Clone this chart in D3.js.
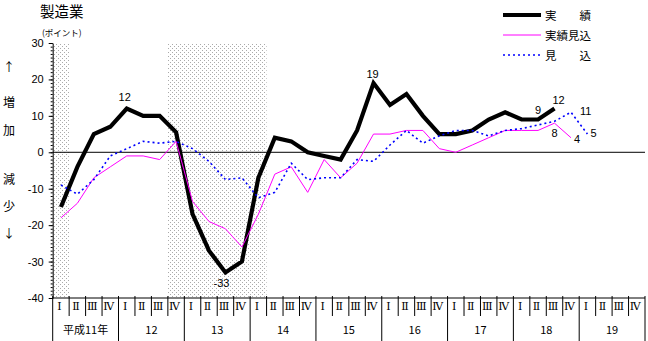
<!DOCTYPE html>
<html>
<head>
<meta charset="utf-8">
<script src="https://cdn.jsdelivr.net/npm/d3@7/dist/d3.min.js"></script>
<style>
  body { margin: 0; background: #fff; }
  svg { display: block; }
</style>
</head>
<body>
<svg id="chart" width="648" height="341"></svg>
<script>
// 製造業 — quarterly index (ポイント), 平成11年Ⅰ to 平成19年Ⅳ
const years = ["平成11年", "12", "13", "14", "15", "16", "17", "18", "19"];
const quarters = ["Ⅰ", "Ⅱ", "Ⅲ", "Ⅳ"];

// 実績 (actual), 平成11年Ⅰ … 平成18年Ⅲ
const actual = [-15, -4, 5, 7, 12, 10, 10, 5.5, -17, -27, -33, -30, -7, 4, 3, 0,
                -1, -2, 6, 19, 13, 16, 10, 5, 5, 6, 9, 11, 9, 9, 12];
// 実績見込 (estimated actual), 平成11年Ⅰ … 平成18年Ⅳ
const estimate = [-18, -14, -7, -4, -1, -1, -2, 3, -13.5, -19, -21, -26, -17, -6, -4, -11,
                  -2, -7, -3, 5, 5, 6, 6, 1, 0, 2, 4, 6, 6, 6, 8, 4];
// 見込 (outlook), 平成11年Ⅰ … 平成19年Ⅰ
const outlook = [-9, -11.5, -7.5, -1, 1, 3, 2.5, 3, 1, -2.5, -7.5, -7, -12.5, -11, -3, -7.5,
                 -7, -7, -2, -2.5, 2, 6, 2.5, 4.5, 6, 6, 4.5, 6, 6.5, 7.5, 8.5, 11, 5];

const yTicks = [30, 20, 10, 0, -10, -20, -30, -40];
// shaded quarters (first and last quarter index of each band)
const shadedPeriods = [[0, 0], [7, 12]];
// points whose value is written next to them: [series, quarter index]
const labelled = [["actual", 4], ["actual", 10], ["actual", 19], ["actual", 29], ["actual", 30],
                  ["estimate", 30], ["estimate", 31], ["outlook", 31], ["outlook", 32]];

const series = { actual, estimate, outlook };

const svg = d3.select("#chart");
const numFont = "'Liberation Sans', Arial, sans-serif";
const jpFont = "'Noto Sans CJK JP', sans-serif";

const nQ = years.length * quarters.length;
const x = d3.scaleBand().domain(d3.range(nQ)).range([52.7, 645]).padding(0);
const bw = x.bandwidth();
const cx = i => x(i) + bw / 2;
const y = d3.scaleLinear().domain([-40, 30]).range([298, 43]);

// dotted fill for the shaded bands
const defs = svg.append("defs");
const pat = defs.append("pattern").attr("id", "dots")
  .attr("patternUnits", "userSpaceOnUse").attr("width", 4).attr("height", 4);
pat.append("rect").attr("x", 0).attr("y", 0).attr("width", 1).attr("height", 1).attr("fill", "#aaaaaa");
pat.append("rect").attr("x", 2).attr("y", 2).attr("width", 1).attr("height", 1).attr("fill", "#aaaaaa");

svg.append("g").selectAll("rect").data(shadedPeriods).join("rect")
  .attr("x", d => x(d[0]))
  .attr("y", y(30))
  .attr("width", d => x(d[1]) + bw - x(d[0]))
  .attr("height", y(-40) - y(30))
  .attr("fill", "url(#dots)");

// title and unit
svg.append("text").attr("x", 40).attr("y", 17).attr("font-family", jpFont)
  .attr("font-size", 14.5).text("製造業");
svg.append("text").attr("x", 42).attr("y", 36).attr("font-family", jpFont)
  .attr("font-size", 8.5).text("(ポイント)");

// side annotation: 増加 / 減少
const side = [["↑", 72], ["増", 107], ["加", 135], ["減", 184], ["少", 211], ["↓", 238]];
svg.append("g").selectAll("text").data(side).join("text")
  .attr("x", 9).attr("y", d => d[1]).attr("text-anchor", "middle")
  .attr("font-family", jpFont).attr("font-size", 12).text(d => d[0]);

// y axis: major ticks with labels, minor ticks every point
const yAxis = d3.axisLeft(y).tickValues(yTicks).tickSize(4).tickSizeOuter(0)
  .tickPadding(5).tickFormat(d => String(d));
const gy = svg.append("g").attr("transform", `translate(${x(0)},0)`).call(yAxis);
gy.selectAll("text").attr("font-family", numFont).attr("font-size", 11).attr("fill", "#000");
gy.select(".domain").attr("stroke", "#000");
const yMinor = d3.axisLeft(y).tickValues(d3.range(-40, 31, 1)).tickSize(2).tickSizeOuter(0).tickFormat("");
svg.append("g").attr("transform", `translate(${x(0)},0)`).call(yMinor)
  .select(".domain").remove();

// zero line
svg.append("line").attr("x1", x(0)).attr("x2", x(nQ - 1) + bw)
  .attr("y1", y(0)).attr("y2", y(0)).attr("stroke", "#000").attr("stroke-width", 1);

// bottom axis with quarter / year table
const gx = svg.append("g").attr("stroke", "#000").attr("stroke-width", 1);
gx.append("line").attr("x1", x(0)).attr("x2", x(nQ - 1) + bw).attr("y1", y(-40)).attr("y2", y(-40));
const edges = d3.range(nQ + 1).map(i => (i < nQ ? x(i) : x(nQ - 1) + bw));
gx.selectAll("line.div").data(d3.range(nQ + 1)).join("line").attr("class", "div")
  .attr("x1", i => edges[i]).attr("x2", i => edges[i])
  .attr("y1", y(-40) - 2)
  .attr("y2", i => (i % quarters.length === 0 ? 341 : 316));

const qLabels = d3.range(nQ).map(i => quarters[i % quarters.length]);
svg.append("g").selectAll("text").data(qLabels).join("text")
  .attr("x", (d, i) => cx(i) - 1.5).attr("y", 310).attr("text-anchor", "middle")
  .attr("font-family", "'DejaVu Serif', serif").attr("font-size", 11).text(d => d);

svg.append("g").selectAll("text").data(years).join("text")
  .attr("x", (d, i) => x(i * 4) + bw * 2).attr("y", 334).attr("text-anchor", "middle")
  .attr("font-family", jpFont).attr("font-size", 11).text(d => d);

// series lines
const line = d3.line().x((d, i) => cx(i)).y(d => y(d));
svg.append("path").datum(actual).attr("d", line).attr("fill", "none")
  .attr("stroke", "#000").attr("stroke-width", 4.2);
svg.append("path").datum(estimate).attr("d", line).attr("fill", "none")
  .attr("stroke", "#ff00ff").attr("stroke-width", 1);
svg.append("path").datum(outlook).attr("d", line).attr("fill", "none")
  .attr("stroke", "#0000ff").attr("stroke-width", 1.6).attr("stroke-dasharray", "2,3");

// value labels (offsets from the point, by series and index)
const labelOffset = {
  "actual-4": [-2, -8, "middle"], "actual-10": [-4, 14, "middle"], "actual-19": [-1, -5, "middle"],
  "actual-29": [0, -6, "middle"], "actual-30": [4, -5, "middle"],
  "estimate-30": [0, 14, "middle"], "estimate-31": [3, 5, "start"],
  "outlook-31": [9, 3, "start"], "outlook-32": [3, 3, "start"]
};
svg.append("g").selectAll("text").data(labelled).join("text")
  .attr("x", d => cx(d[1]) + labelOffset[d[0] + "-" + d[1]][0])
  .attr("y", d => y(series[d[0]][d[1]]) + labelOffset[d[0] + "-" + d[1]][1])
  .attr("text-anchor", d => labelOffset[d[0] + "-" + d[1]][2])
  .attr("font-family", numFont).attr("font-size", 11)
  .text(d => String(series[d[0]][d[1]]));

// legend
const legendItems = [
  { name: "実　　績", stroke: "#000", width: 4, dash: null },
  { name: "実績見込", stroke: "#ff00ff", width: 1, dash: null },
  { name: "見　　込", stroke: "#0000ff", width: 1.6, dash: "2,3" }
];
const lg = svg.append("g").selectAll("g").data(legendItems).join("g")
  .attr("transform", (d, i) => `translate(503,${15 + i * 20})`);
lg.append("line").attr("x1", 0).attr("x2", 38).attr("y1", 0).attr("y2", 0)
  .attr("stroke", d => d.stroke).attr("stroke-width", d => d.width)
  .attr("stroke-dasharray", d => d.dash);
lg.append("text").attr("x", 42).attr("y", 5).attr("font-family", jpFont)
  .attr("font-size", 11.5).text(d => d.name);
</script>
</body>
</html>
